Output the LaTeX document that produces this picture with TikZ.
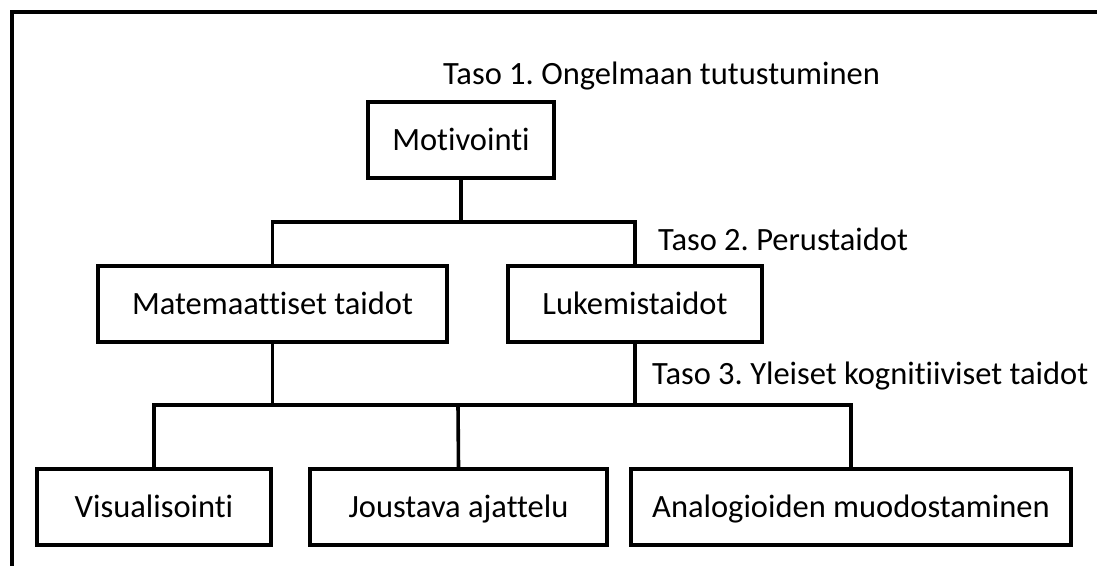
\documentclass[tikz,border=0pt]{standalone}
\usepackage{fontspec}
\setmainfont{Carlito}[Ligatures={NoCommon}]
\begin{document}
\frenchspacing
\begin{tikzpicture}[x=1pt,y=-1pt,
  txt/.style={font=\fontsize{32.5}{38}\selectfont,text height=21pt,text depth=0pt},
  box/.style={txt,draw=black,line width=3.8pt,rectangle,inner sep=0pt,minimum height=76pt},
  lbl/.style={txt,anchor=west,inner sep=0pt},
  conn/.style={draw=black,line width=3.6pt},
  frame/.style={draw=black,line width=4pt}]
\useasboundingbox (0,0) rectangle (1097,565);
\coordinate (fa) at (1100,12);
\coordinate (fb) at (12,12);
\coordinate (fc) at (12,570);
\draw[frame] (fa) -- (fb) -- (fc);
\node[box,minimum width=186pt] (mot) at (461,140) {Motivointi};
\node[box,minimum width=349pt] (mat) at (272.5,304) {Matemaattiset taidot};
\node[box,minimum width=254pt] (luk) at (635,304) {Lukemistaidot};
\node[box,minimum width=234pt] (vis) at (154,507) {Visualisointi};
\node[box,minimum width=297pt] (jou) at (458.5,507) {Joustava ajattelu};
\node[box,minimum width=440pt] (ana) at (851,507) {Analogioiden muodostaminen};
\node[lbl] (l1) at (443,74) {Taso 1. Ongelmaan tutustuminen};
\node[lbl] (l2) at (658,240) {Taso 2. Perustaidot};
\node[lbl] (l3) at (652,374) {Taso 3. Yleiset kognitiiviset taidot};
\coordinate (t1) at (461,222);
\coordinate (t2) at (458,405);
\draw[conn] (mot.south) -- (t1);
\draw[conn] (mat.north) -- (mat.north |- t1) -- (luk.north |- t1) -- (luk.north);
\draw[conn] (mat.south) -- (mat.south |- t2);
\draw[conn] (luk.south) -- (luk.south |- t2);
\draw[conn] (vis.north) -- (vis.north |- t2) -- (ana.north |- t2) -- (ana.north);
\draw[conn] (jou.north) -- (t2);
\end{tikzpicture}
\end{document}
